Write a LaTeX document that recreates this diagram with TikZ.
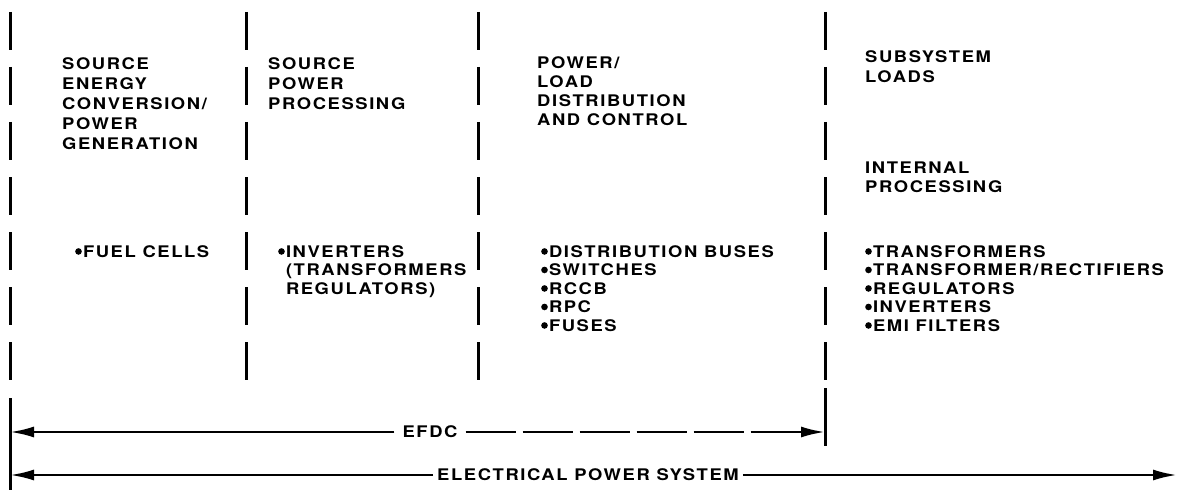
\documentclass[tikz,border=0pt]{standalone}
\usepackage{fontspec}
\newfontfamily\lab{TeX Gyre Heros}[FakeStretch=1.15,LetterSpace=10]
\usetikzlibrary{arrows.meta}
\newcommand\blt{\tikz[x=1cm,y=1cm,baseline={(0,-5.6pt)}]\fill (0,0) circle[radius=3.3pt];\hspace{1.2pt}}
\newcommand\nblt{\hspace{7.8pt}}
\begin{document}
\begin{tikzpicture}[x=1pt,y=-1pt,
  sepline/.style={line width=3pt, dash pattern=on 38pt off 17pt},
  solidline/.style={line width=3pt},
  head/.style={anchor=north west, inner sep=0pt, align=left,
    font=\lab\bfseries\fontsize{16}{20}\selectfont},
  itemlist/.style={anchor=north west, inner sep=0pt, align=left,
    font=\lab\bfseries\fontsize{16}{18.5}\selectfont},
  dimlabel/.style={inner sep=0pt, font=\lab\bfseries\fontsize{16}{18}\selectfont},
  dimline/.style={line width=2.6pt},
  tip/.style={-{Latex[length=24pt,width=11pt]}},
  dashdim/.style={dimline, dash pattern=on 50pt off 7pt}
]
\useasboundingbox (0,0) rectangle (1178,492);

% vertical separators
\coordinate (a1) at (10,12);  \coordinate (a2) at (10,381);
\coordinate (a3) at (10,398); \coordinate (a4) at (10,490);
\coordinate (b1) at (246,12); \coordinate (b2) at (246,381);
\coordinate (c1) at (478,12); \coordinate (c2) at (478,381);
\coordinate (d1) at (825,12); \coordinate (d2) at (825,381);
\coordinate (d3) at (825,388); \coordinate (d4) at (825,446);
\draw[sepline] (a1) -- (a2);
\draw[solidline] (a3) -- (a4);
\draw[sepline] (b1) -- (b2);
\draw[sepline] (c1) -- (c2);
\draw[sepline] (d1) -- (d2);
\draw[solidline] (d3) -- (d4);

% headings
\node[head] (h1) at (62,57) {SOURCE\\ENERGY\\CONVERSION/\\POWER\\GENERATION};
\node[head] (h2) at (268,57) {SOURCE\\POWER\\PROCESSING};
\node[head, font=\lab\bfseries\fontsize{16}{19}\selectfont] (h3) at (537,56) {POWER/\\LOAD\\DISTRIBUTION\\AND CONTROL};
\node[head] (h4) at (865,50) {SUBSYSTEM\\LOADS};
\node[head, font=\lab\bfseries\fontsize{16}{19}\selectfont] (h5) at (865,162) {INTERNAL\\PROCESSING};

% item lists
\node[itemlist] (i1) at (75,245) {\blt FUEL CELLS};
\node[itemlist] (i2) at (278,245) {\blt INVERTERS\\\nblt(TRANSFORMERS\\\nblt REGULATORS)};
\node[itemlist] (i3) at (541,245) {\blt DISTRIBUTION BUSES\\\blt SWITCHES\\\blt RCCB\\\blt RPC\\\blt FUSES};
\node[itemlist] (i4) at (865,245) {\blt TRANSFORMERS\\\blt TRANSFORMER/RECTIFIERS\\\blt REGULATORS\\\blt INVERTERS\\\blt EMI FILTERS};

% dimension arrows
\coordinate (efdcL) at (10,432);
\coordinate (efdcR) at (825,432);
\coordinate (epsL) at (10,475);
\coordinate (epsR) at (1177,475);
\node[dimlabel] (efdc) at (430,432) {EFDC};
\node[dimlabel] (eps) at (588,475) {ELECTRICAL POWER SYSTEM};
\draw[dimline, tip] ([xshift=-8pt]efdc.west) -- (efdcL);
\draw[dashdim, tip] ([xshift=8pt]efdc.east) -- (efdcR);
\draw[dimline, tip] ([xshift=-4pt]eps.west) -- (epsL);
\draw[dimline, tip] ([xshift=4pt]eps.east) -- (epsR);
\end{tikzpicture}
\end{document}
